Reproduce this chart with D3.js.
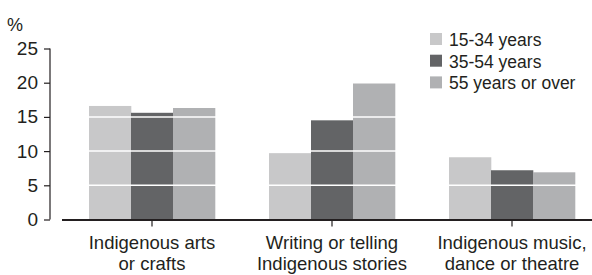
<!DOCTYPE html>
<html><head><meta charset="utf-8">
<script src="https://cdn.jsdelivr.net/npm/d3@7"></script>
<style>body{margin:0;background:#fff}svg{display:block}text{font-family:"Liberation Sans",Arial,sans-serif;fill:#231f20}</style>
</head><body><svg id="c" width="592" height="275"></svg>
<script>
const categories = [["Indigenous arts","or crafts"],["Writing or telling","Indigenous stories"],["Indigenous music,","dance or theatre"]];
const seriesNames = ["15-34 years","35-54 years","55 years or over"];
const values15_34 = [16.6, 9.7, 9.1];
const values35_54 = [15.6, 14.5, 7.2];
const values55 = [16.3, 20.0, 6.9];
const yTicks = [0,5,10,15,20,25];
const colors = ["#c8c8c9","#636466","#b0b1b3"];
const series = [values15_34, values35_54, values55];

const svg = d3.select("#c");
const y = d3.scaleLinear().domain([0,25]).range([219.5,48.5]);
const x = d3.scaleBand().domain(d3.range(categories.length)).range([62,602]).paddingInner(0.3).paddingOuter(0.15);
const xs = d3.scaleBand().domain(d3.range(series.length)).range([0,x.bandwidth()]);

const g = svg.append("g");
series.forEach((vals,si)=>{
  g.selectAll(null).data(vals).enter().append("rect")
    .attr("x",(d,i)=>x(i)+xs(si)).attr("width",xs.bandwidth()+0.3)
    .attr("y",d=>y(d)).attr("height",d=>y(0)-y(d)).attr("fill",colors[si]);
});
// white gridlines
svg.selectAll(null).data(yTicks.filter(t=>t>0)).enter().append("line")
  .attr("x1",62).attr("x2",592).attr("y1",d=>y(d)).attr("y2",d=>y(d))
  .attr("stroke","#fff").attr("stroke-width",1.5);

// y axis
const ya = svg.append("g").attr("transform","translate(50,0)")
  .call(d3.axisLeft(y).tickValues(yTicks).tickSize(6).tickPadding(6));
ya.select(".domain").attr("stroke","#231f20").attr("stroke-width",1.2).attr("d","M0,48.5V219.5");
ya.selectAll(".tick line").attr("stroke","#231f20").attr("stroke-width",1.2);
ya.selectAll(".tick text").attr("font-size",19).attr("font-family","Liberation Sans, Arial, sans-serif").attr("fill","#231f20");

// baseline
svg.append("line").attr("x1",62).attr("x2",592).attr("y1",y(0)+0.5).attr("y2",y(0)+0.5)
  .attr("stroke","#231f20").attr("stroke-width",1.8);
// x ticks
svg.selectAll(null).data(d3.range(categories.length)).enter().append("line")
  .attr("x1",i=>x(i)+x.bandwidth()/2).attr("x2",i=>x(i)+x.bandwidth()/2)
  .attr("y1",y(0)+1).attr("y2",y(0)+7).attr("stroke","#231f20").attr("stroke-width",1.2);
// x labels
categories.forEach((lines,i)=>{
  const t = svg.append("text").attr("text-anchor","middle").attr("font-size",18.5)
    .attr("x",x(i)+x.bandwidth()/2).attr("y",248.5);
  lines.forEach((l,k)=>t.append("tspan").attr("x",x(i)+x.bandwidth()/2).attr("dy",k?21.5:0).text(l));
});
// % label
svg.append("text").attr("x",7).attr("y",31).attr("font-size",18).text("%");

// legend
const lg = svg.append("g");
seriesNames.forEach((n,i)=>{
  lg.append("rect").attr("x",430).attr("y",33+i*21.7).attr("width",12).attr("height",12).attr("fill",colors[i]);
  lg.append("text").attr("x",449).attr("y",46+i*21.7).attr("font-size",17.5).text(n);
});
</script></body></html>
